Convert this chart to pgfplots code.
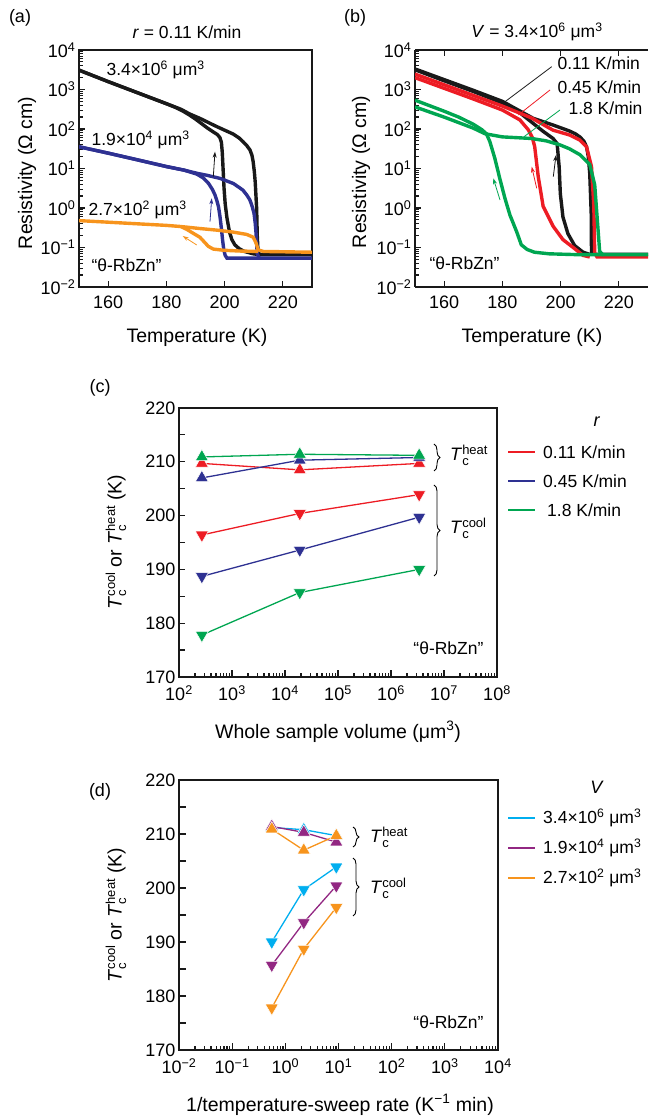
\documentclass[border=0pt]{standalone}
\usepackage{fontspec}
\setmainfont{Liberation Sans}
\usepackage{pgfplots}
\pgfplotsset{compat=1.18}
\usetikzlibrary{arrows.meta,decorations.pathreplacing}

\definecolor{cblk}{RGB}{25,25,25}
\definecolor{cblue}{RGB}{46,49,146}
\definecolor{corange}{RGB}{247,148,29}
\definecolor{cred}{RGB}{237,28,36}
\definecolor{cgreen}{RGB}{0,166,81}
\definecolor{ccyan}{RGB}{0,174,239}
\definecolor{cpurple}{RGB}{146,39,130}

% T_c with stacked sub/superscript
\newcommand\Tc[1]{{\textit{T}\fontsize{13}{14}\selectfont\rlap{\raisebox{-4.5pt}{c}}\raisebox{6.5pt}{#1}}}
\newcommand\sq[1]{\textsuperscript{#1}}

\pgfplotsset{
  /pgf/number format/assume math mode=true,
  every axis/.append style={scale only axis,
    axis line style={line width=1.8pt, cblk},
    tick style={line width=1.2pt, cblk},
    tick align=inside, tick pos=left,
    ticklabel style={font=\fontsize{18}{21}\selectfont},
    xticklabel style={yshift=-5pt}},
}

\begin{document}
\begin{tikzpicture}[font=\fontsize{17}{20}\selectfont]
\path[use as bounding box] (0,0) rectangle (648pt,1118pt);

% ---------------- (a) ----------------
\begin{axis}[at={(79pt,831pt)}, anchor=south west, width=233pt, height=237pt,
  ymode=log, ymin=1e-2, ymax=1e4, xmin=150, xmax=230, xtick={160,180,200,220},
  ytick={1e-2,1e-1,1,1e1,1e2,1e3,1e4},
  yticklabels={10\sq{−2},10\sq{−1},10\sq{0},10\sq{1},10\sq{2},10\sq{3},10\sq{4}},
  major tick length=6pt, minor tick length=3.5pt,
  every axis plot/.append style={line width=3.4pt}]
% black 3.4e6, cooling
\addplot[cblk] coordinates {(150,3090)(160,1585)(170,832)(180,437)(183,355)(186,275)(188,224)(190,178)(192,138)(194,107)(196,85.1)(197.5,72.4)(198.4,60.3)(198.9,45.7)(199.2,25.1)(199.5,8.91)(199.8,3.16)(200.2,1.26)(200.8,0.562)(201.7,0.240)(202.5,0.158)(203.5,0.117)(205,0.0933)(206.8,0.0794)(209.8,0.0692)(212,0.066)};
% black heating
\addplot[cblk] coordinates {(150,3090)(160,1585)(170,832)(180,437)(185,316)(188,240)(191.5,186)(194,151)(197.3,115)(200,93.3)(203,74.1)(205,58.9)(206.3,47.9)(207.6,38.0)(208.7,29.5)(209.4,21.4)(209.8,14.8)(210.2,8.32)(210.5,4.57)(211.0,0.955)(211.2,0.204)(211.5,0.0724)(212.5,0.066)(230,0.066)};
% blue 1.9e4, cooling
\addplot[cblue] coordinates {(150,35.5)(160,24.5)(170,16.6)(180,11.2)(186,9.12)(190.4,7.24)(192.7,5.75)(194.5,4.17)(195.8,2.95)(196.7,2.14)(197.4,1.48)(197.9,1.07)(198.4,0.617)(198.9,0.302)(199.3,0.155)(199.7,0.0891)(200.2,0.0631)(200.8,0.0537)(230,0.0537)};
% blue heating
\addplot[cblue] coordinates {(150,35.5)(160,24.5)(170,16.6)(180,11.2)(186,9.12)(190.4,7.59)(193.8,6.76)(198.4,5.62)(203,4.17)(205,3.31)(206.3,2.82)(207.6,2.14)(208.7,1.585)(209.5,1.07)(210.1,0.724)(210.5,0.417)(210.8,0.224)(211.2,0.0692)(211.9,0.0537)};
% orange 2.7e2, heating
\addplot[corange] coordinates {(150,0.479)(160,0.437)(170,0.398)(180,0.363)(185,0.339)(191.5,0.302)(197.3,0.275)(203,0.245)(207.6,0.214)(209.8,0.182)(210.8,0.129)(211.5,0.0871)(213.3,0.0794)(230,0.0759)};
% orange cooling
\addplot[corange] coordinates {(185,0.339)(187,0.288)(189.2,0.229)(191.5,0.182)(192.9,0.141)(194.4,0.107)(196.1,0.0912)(199.6,0.0851)(205.3,0.0813)(211.5,0.0794)};
\end{axis}

% ---------------- (b) ----------------
\begin{axis}[at={(415pt,831pt)}, anchor=south west, width=233pt, height=237pt,
  ymode=log, ymin=1e-2, ymax=1e4, xmin=150, xmax=230, xtick={160,180,200,220},
  ytick={1e-2,1e-1,1,1e1,1e2,1e3,1e4},
  yticklabels={10\sq{−2},10\sq{−1},10\sq{0},10\sq{1},10\sq{2},10\sq{3},10\sq{4}},
  major tick length=6pt, minor tick length=3.5pt,
  axis x line*=box, axis y line*=left,
  every axis plot/.append style={line width=3.4pt}]
% black 0.11 K/min
\addplot[cblk] coordinates {(150,3311)(160,1778)(170,955)(180,501)(190.6,186)(197.4,126)(203,89.1)(205,75.9)(206.6,63.1)(208,49.0)(208.9,35.5)(209.5,20.0)(210,7.41)(210.5,0.724)(210.6,0.0724)(211.5,0.0676)(230,0.0676)};
\addplot[cblk] coordinates {(150,3162)(160,1660)(170,891)(180,457)(186,257)(190.6,138)(194,87.1)(197.4,57.5)(198.8,42.7)(199.5,11.0)(199.9,2.29)(200.8,0.589)(202.5,0.224)(204.8,0.112)(207.7,0.0759)(210.2,0.0661)};
% red 0.45 K/min
\addplot[cred] coordinates {(150,2455)(160,1318)(170,708)(180,380)(190,191)(197.4,93.3)(203,70.8)(206.6,52.5)(208.9,35.5)(210.6,11.2)(211.4,1.10)(211.7,0.0724)(212.5,0.0575)(230,0.0575)};
\addplot[cred] coordinates {(150,1995)(160,1072)(170,575)(180,302)(186,170)(188.9,95.5)(190.3,60.3)(191.1,35.5)(192.3,6.31)(194,1.10)(197.4,0.347)(200.8,0.158)(204.3,0.1)(207.7,0.0631)(210,0.0575)};
% green 1.8 K/min
\addplot[cgreen] coordinates {(150,363)(160,200)(170,105)(174,75.9)(180,63.1)(190,57.5)(195,50.1)(199.7,39.8)(203,31.6)(206.6,22.4)(210,12.6)(211.7,3.89)(212.9,0.251)(213.4,0.0794)(214.5,0.0661)(230,0.0661)};
\addplot[cgreen] coordinates {(150,537)(160,282)(165,200)(170,132)(173,95.5)(174.5,75.9)(175.7,47.9)(177.4,18.2)(179.1,5.62)(180.9,1.74)(182.6,0.661)(184.9,0.251)(186.5,0.117)(188.5,0.0891)(191,0.0759)(196,0.0692)(205,0.0661)(214.5,0.0661)};
\end{axis}

% ---------------- (c) ----------------
\begin{axis}[at={(179pt,441pt)}, anchor=south west, width=318pt, height=269pt,
  ymin=170, ymax=220, ytick={170,180,...,220},
  extra y ticks={175,185,...,215}, extra y tick labels={},
  xmode=log, xmin=1e2, xmax=1e8, xtick={1e2,1e3,1e4,1e5,1e6,1e7,1e8},
  xticklabels={10\sq{2},10\sq{3},10\sq{4},10\sq{5},10\sq{6},10\sq{7},10\sq{8}},
  major tick length=6.5pt, minor tick length=3.5pt,
  every axis plot/.append style={line width=1.3pt},
  mark size=7.5pt]
\addplot[cred, mark=triangle*, mark options={solid, fill=cred, draw=white, line width=0.5pt, rotate=180}] coordinates {(270,196.4)(1.9e4,200.4)(3.4e6,203.9)};
\addplot[cblue, mark=triangle*, mark options={solid, fill=cblue, draw=white, line width=0.5pt, rotate=180}] coordinates {(270,188.7)(1.9e4,193.6)(3.4e6,199.7)};
\addplot[cgreen, mark=triangle*, mark options={solid, fill=cgreen, draw=white, line width=0.5pt, rotate=180}] coordinates {(270,177.8)(1.9e4,185.7)(3.4e6,190.0)};
\addplot[cred, mark=triangle*, mark options={solid, fill=cred, draw=white, line width=0.5pt}] coordinates {(270,209.7)(1.9e4,208.5)(3.4e6,209.7)};
\addplot[cblue, mark=triangle*, mark options={solid, fill=cblue, draw=white, line width=0.5pt}] coordinates {(270,207.0)(1.9e4,210.3)(3.4e6,210.8)};
\addplot[cgreen, mark=triangle*, mark options={solid, fill=cgreen, draw=white, line width=0.5pt}] coordinates {(270,210.9)(1.9e4,211.4)(3.4e6,211.2)};
\end{axis}

% ---------------- (d) ----------------
\begin{axis}[at={(179pt,68pt)}, anchor=south west, width=319pt, height=270pt,
  ymin=170, ymax=220, ytick={170,180,...,220},
  extra y ticks={175,185,...,215}, extra y tick labels={},
  xmode=log, xmin=1e-2, xmax=1e4, xtick={1e-2,1e-1,1,1e1,1e2,1e3,1e4},
  xticklabels={10\sq{−2},10\sq{−1},10\sq{0},10\sq{1},10\sq{2},10\sq{3},10\sq{4}},
  major tick length=6.5pt, minor tick length=3.5pt,
  every axis plot/.append style={line width=1.3pt},
  mark size=7.5pt]
\addplot[ccyan, mark=triangle*, mark options={solid, fill=ccyan, draw=white, line width=0.5pt, rotate=180}] coordinates {(0.556,190.0)(2.222,199.7)(9.091,203.9)};
\addplot[cpurple, mark=triangle*, mark options={solid, fill=cpurple, draw=white, line width=0.5pt, rotate=180}] coordinates {(0.556,185.7)(2.222,193.6)(9.091,200.4)};
\addplot[corange, mark=triangle*, mark options={solid, fill=corange, draw=white, line width=0.5pt, rotate=180}] coordinates {(0.556,177.8)(2.222,188.7)(9.091,196.4)};
\addplot[ccyan, mark=triangle*, mark options={solid, fill=ccyan, draw=white, line width=0.5pt}] coordinates {(0.556,211.2)(2.222,210.8)(9.091,209.7)};
\addplot[cpurple, mark=triangle*, mark options={solid, fill=cpurple, draw=white, line width=0.5pt}] coordinates {(0.556,211.4)(2.222,210.3)(9.091,208.5)};
\addplot[corange, mark=triangle*, mark options={solid, fill=corange, draw=white, line width=0.5pt}] coordinates {(0.556,210.9)(2.222,207.0)(9.091,209.7)};
\end{axis}

% ---------------- annotations ----------------
\begin{scope}[x=1pt,y=1pt]
\def\lab{\fontsize{19.5}{22}\selectfont}
\def\leg{\fontsize{17.5}{20}\selectfont}
% (a)
\node at (20,1100) {\fontsize{18}{20}\selectfont(a)};
\node at (187,1086) {\leg\textit{r} = 0.11 K/min};
\node[rotate=90] at (27,945) {\lab Resistivity (Ω cm)};
\node at (197,781) {\lab Temperature (K)};
\node[anchor=west] at (103,1048) {\leg 3.4×10\sq{6} μm\sq{3}};
\node[anchor=west] at (88,978) {\leg 1.9×10\sq{4} μm\sq{3}};
\node[anchor=west] at (85,908) {\leg 2.7×10\sq{2} μm\sq{3}};
\node[anchor=west] at (88,853) {\leg “θ-RbZn”};
\draw[cblk, line width=0.8pt, -{Stealth[length=6pt,width=4pt]}] (213.3,941.3) -- (215,966.3);
\draw[cblue, line width=0.8pt, -{Stealth[length=6pt,width=4pt]}] (210,896.3) -- (211.7,919.7);
\draw[corange, line width=0.8pt, -{Stealth[length=6pt,width=4pt]}] (196.7,873) -- (182.7,882);
% (b)
\node at (355,1100) {\fontsize{18}{20}\selectfont(b)};
\node at (537,1086) {\leg\textit{V} = 3.4×10\sq{6} μm\sq{3}};
\node[rotate=90] at (361,946) {\lab Resistivity (Ω cm)};
\node at (532,781) {\lab Temperature (K)};
\node[anchor=west] at (426,855) {\leg “θ-RbZn”};
\node[anchor=west] at (554,1055) {\leg 0.11 K/min};
\node[anchor=west] at (554,1031) {\leg 0.45 K/min};
\node[anchor=west] at (565,1010) {\leg 1.8 K/min};
\draw[cblk, line width=0.8pt] (551.7,1051.3) -- (505,1016.3);
\draw[cred, line width=0.8pt] (550,1028) -- (518.3,1003);
\draw[cgreen, line width=0.8pt] (560,1008) -- (524,981.3);
\draw[cblk, line width=0.8pt, -{Stealth[length=6pt,width=4pt]}] (553.3,941.3) -- (556,963);
\draw[cred, line width=0.8pt, -{Stealth[length=6pt,width=4pt]}] (536.7,929.7) -- (531.7,951.3);
\draw[cgreen, line width=0.8pt, -{Stealth[length=6pt,width=4pt]}] (500,918) -- (493.3,939.7);
% (c)
\node at (100,730) {\fontsize{18}{20}\selectfont(c)};
\node[rotate=90] at (116,576) {\lab\Tc{cool} or \Tc{heat} (K)};
\node at (338,386) {\lab Whole sample volume (μm\sq{3})};
\node[anchor=east] at (487,470) {\leg “θ-RbZn”};
\draw[line width=0.9pt, decorate, decoration={brace, amplitude=6pt}] (434,674) -- (434,647);
\draw[line width=0.9pt, decorate, decoration={brace, amplitude=6pt}] (434,633) -- (434,542);
\node[anchor=west, inner sep=0pt] at (450,663) {\fontsize{18}{20}\selectfont\Tc{heat}};
\node[anchor=west, inner sep=0pt] at (450,590) {\fontsize{18}{20}\selectfont\Tc{cool}};
\node at (597,696) {\fontsize{18}{20}\selectfont\textit{r}};
\draw[cred, line width=2.5pt] (508,666) -- (535,666);
\draw[cblue, line width=2.5pt] (508,637) -- (535,637);
\draw[cgreen, line width=2.5pt] (508,608) -- (535,608);
\node[anchor=west, inner sep=0pt] at (543,666) {\leg 0.11 K/min};
\node[anchor=west, inner sep=0pt] at (543,637) {\leg 0.45 K/min};
\node[anchor=west, inner sep=0pt] at (547,608) {\leg 1.8 K/min};
% (d)
\node at (100,326) {\fontsize{18}{20}\selectfont(d)};
\node[rotate=90] at (116,203) {\lab\Tc{cool} or \Tc{heat} (K)};
\node at (340,13) {\lab 1/temperature-sweep rate (K\sq{−1} min)};
\node[anchor=east] at (487,96) {\leg “θ-RbZn”};
\draw[line width=0.9pt, decorate, decoration={brace, amplitude=6pt}] (353,291) -- (353,271);
\draw[line width=0.9pt, decorate, decoration={brace, amplitude=6pt}] (353,260) -- (353,202);
\node[anchor=west, inner sep=0pt] at (370,281) {\fontsize{18}{20}\selectfont\Tc{heat}};
\node[anchor=west, inner sep=0pt] at (370,230) {\fontsize{18}{20}\selectfont\Tc{cool}};
\node at (597,331) {\fontsize{18}{20}\selectfont\textit{V}};
\draw[ccyan, line width=2.5pt] (508,300) -- (535,300);
\draw[cpurple, line width=2.5pt] (508,270) -- (535,270);
\draw[corange, line width=2.5pt] (508,240) -- (535,240);
\node[anchor=west, inner sep=0pt] at (543,300) {\leg 3.4×10\sq{6} μm\sq{3}};
\node[anchor=west, inner sep=0pt] at (543,270) {\leg 1.9×10\sq{4} μm\sq{3}};
\node[anchor=west, inner sep=0pt] at (543,240) {\leg 2.7×10\sq{2} μm\sq{3}};
\end{scope}
\end{tikzpicture}
\end{document}
